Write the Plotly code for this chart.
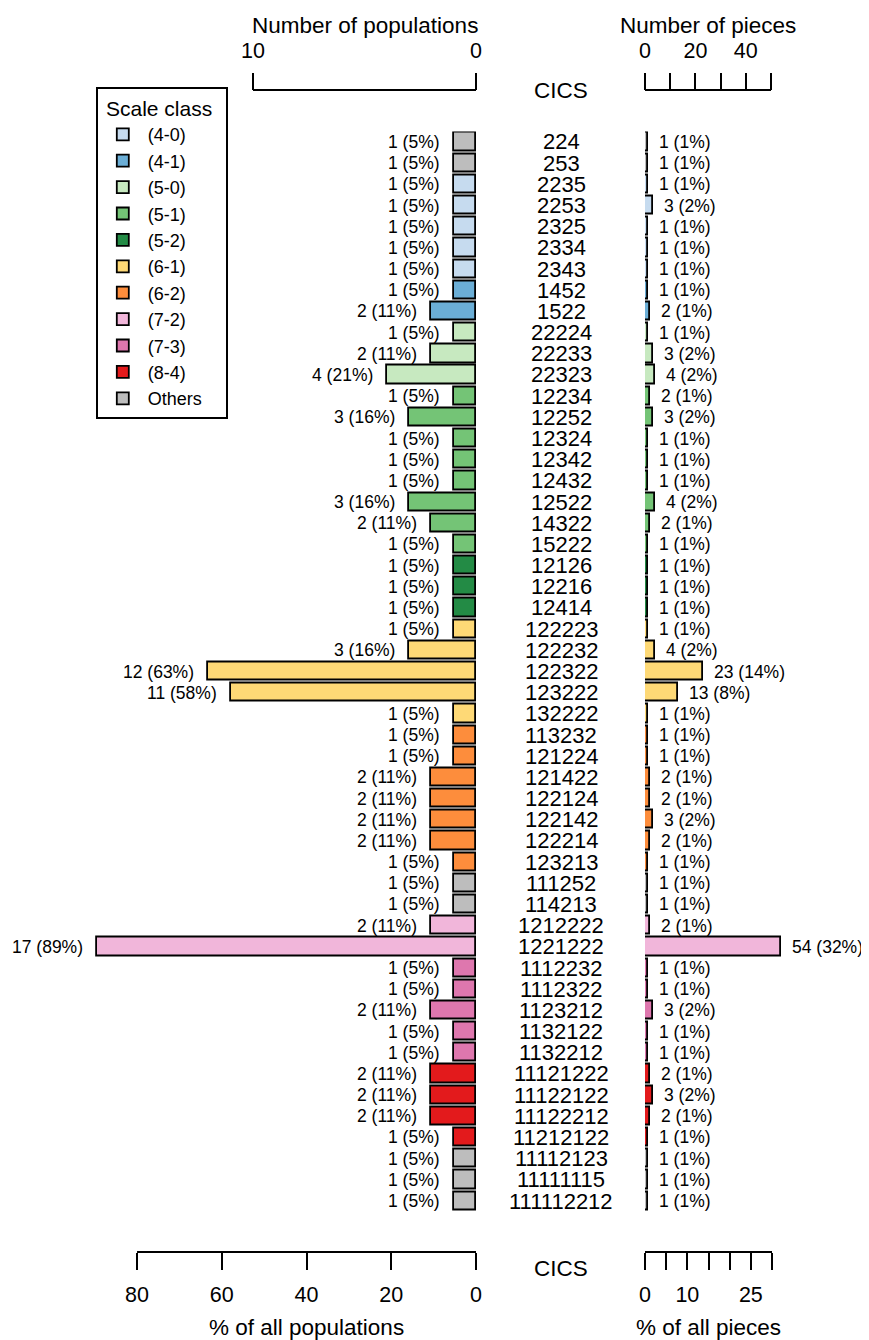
import plotly.graph_objects as go

# CICS rows, top to bottom
cics = ["224", "253", "2235", "2253", "2325", "2334", "2343", "1452", "1522",
        "22224", "22233", "22323", "12234", "12252", "12324", "12342", "12432",
        "12522", "14322", "15222", "12126", "12216", "12414", "122223", "122232",
        "122322", "123222", "132222", "113232", "121224", "121422", "122124",
        "122142", "122214", "123213", "111252", "114213", "1212222", "1221222",
        "1112232", "1112322", "1123212", "1132122", "1132212", "11121222",
        "11122122", "11122212", "11212122", "11112123", "11111115", "111112212"]
n_pop = [1, 1, 1, 1, 1, 1, 1, 1, 2, 1, 2, 4, 1, 3, 1, 1, 1, 3, 2, 1, 1, 1, 1, 1, 3,
         12, 11, 1, 1, 1, 2, 2, 2, 2, 1, 1, 1, 2, 17, 1, 1, 2, 1, 1, 2, 2, 2, 1, 1, 1, 1]
n_pieces = [1, 1, 1, 3, 1, 1, 1, 1, 2, 1, 3, 4, 2, 3, 1, 1, 1, 4, 2, 1, 1, 1, 1, 1, 4,
            23, 13, 1, 1, 1, 2, 2, 3, 2, 1, 1, 1, 2, 54, 1, 1, 3, 1, 1, 2, 3, 2, 1, 1, 1, 1]
scale_class = ["Others", "Others", "(4-0)", "(4-0)", "(4-0)", "(4-0)", "(4-0)", "(4-1)", "(4-1)",
               "(5-0)", "(5-0)", "(5-0)", "(5-1)", "(5-1)", "(5-1)", "(5-1)", "(5-1)",
               "(5-1)", "(5-1)", "(5-1)", "(5-2)", "(5-2)", "(5-2)", "(6-1)", "(6-1)",
               "(6-1)", "(6-1)", "(6-1)", "(6-2)", "(6-2)", "(6-2)", "(6-2)",
               "(6-2)", "(6-2)", "(6-2)", "Others", "Others", "(7-2)", "(7-2)",
               "(7-3)", "(7-3)", "(7-3)", "(7-3)", "(7-3)", "(8-4)",
               "(8-4)", "(8-4)", "(8-4)", "Others", "Others", "Others"]
class_names = ["(4-0)", "(4-1)", "(5-0)", "(5-1)", "(5-2)", "(6-1)", "(6-2)",
               "(7-2)", "(7-3)", "(8-4)", "Others"]
class_colors = ["#C6DBEF", "#6BAED6", "#C7E9C0", "#74C476", "#238B45", "#FED976",
                "#FD8D3C", "#F1B6DA", "#DE77AE", "#E31A1C", "#BDBDBD"]
total_pops = 19
total_pieces = sum(n_pieces)

pop_ticks = [0, 10]
pop_pct_ticks = [0, 20, 40, 60, 80]
piece_ticks = [0, 10, 20, 30, 40, 50]
piece_labels = ["0", "", "20", "", "40", ""]
piece_pct_ticks = [0, 5, 10, 15, 20, 25, 30]
piece_pct_labels = ["0", "", "10", "", "", "25", ""]

# page geometry (pixels in the browser window; body has an 8px margin)
PAGE_W, PAGE_H = 869, 1340
OFF = 8
W, H = PAGE_W - OFF, PAGE_H - OFF
FONT = "Liberation Sans, Arial, sans-serif"
left_zero = 476.0
px_per_pop = 22.3
right_zero = 645.0
px_per_piece = 2.52
row_top, row_bottom = 131.4, 1211.6
top_axis_y = 90
bot_axis_y = 1252
mid_x = 561


def fx(p):
    return (p - OFF) / W


def fy(p):
    return 1 - (p - OFF) / H


left_range = (left_zero - OFF) / px_per_pop
right_range = (W + OFF - right_zero) / px_per_piece

fig = go.Figure()
for name, col in zip(class_names, class_colors):
    idx = [i for i, c in enumerate(scale_class) if c == name]
    fig.add_trace(go.Bar(
        x=[n_pop[i] for i in idx], y=[cics[i] for i in idx], orientation="h",
        xaxis="x", yaxis="y", width=0.86, name=name, legendgroup=name,
        marker=dict(color=col, line=dict(color="black", width=1.8))))
    fig.add_trace(go.Bar(
        x=[n_pieces[i] for i in idx], y=[cics[i] for i in idx], orientation="h",
        xaxis="x2", yaxis="y", width=0.86, name=name, legendgroup=name,
        showlegend=False,
        marker=dict(color=col, line=dict(color="black", width=1.8))))

ann = []
for i, c in enumerate(cics):
    ann.append(dict(x=n_pop[i], y=i, xref="x", yref="y", xanchor="right", yanchor="middle",
                    xshift=-12,
                    text="%d (%d%%)" % (n_pop[i], round(100 * n_pop[i] / total_pops)),
                    showarrow=False, font=dict(size=17.5)))
    ann.append(dict(x=n_pieces[i], y=i, xref="x2", yref="y", xanchor="left", yanchor="middle",
                    xshift=9,
                    text="%d (%d%%)" % (n_pieces[i], round(100 * n_pieces[i] / total_pieces)),
                    showarrow=False, font=dict(size=17.5)))
    ann.append(dict(x=fx(mid_x), y=i, xref="paper", yref="y", xanchor="center",
                    yanchor="middle", text=c, showarrow=False, font=dict(size=22)))


def title(text, x, xref, ypix):
    return dict(x=x, y=fy(ypix), xref=xref, yref="paper", text=text, xanchor="center",
                yanchor="middle", showarrow=False, font=dict(size=22.5))


ann += [
    title("Number of populations", (pop_ticks[0] + pop_ticks[-1]) / 2, "x", 25),
    title("Number of pieces", (piece_ticks[0] + piece_ticks[-1]) / 2, "x2", 25),
    title("% of all populations", (pop_pct_ticks[0] + pop_pct_ticks[-1]) / 2, "x3", 1327),
    title("% of all pieces", (piece_pct_ticks[0] + piece_pct_ticks[-1]) / 2, "x4", 1327),
    title("CICS", fx(mid_x), "paper", 90),
    title("CICS", fx(mid_x), "paper", 1268),
]

line = dict(color="black", width=1.8)
shapes = [
    dict(type="line", xref="x", yref="paper", x0=pop_ticks[0], x1=pop_ticks[-1],
         y0=fy(top_axis_y), y1=fy(top_axis_y), line=line),
    dict(type="line", xref="x2", yref="paper", x0=piece_ticks[0], x1=piece_ticks[-1],
         y0=fy(top_axis_y), y1=fy(top_axis_y), line=line),
    dict(type="line", xref="x3", yref="paper", x0=pop_pct_ticks[0], x1=pop_pct_ticks[-1],
         y0=fy(bot_axis_y), y1=fy(bot_axis_y), line=line),
    dict(type="line", xref="x4", yref="paper", x0=piece_pct_ticks[0], x1=piece_pct_ticks[-1],
         y0=fy(bot_axis_y), y1=fy(bot_axis_y), line=line),
]

axis_common = dict(showgrid=False, zeroline=False, showline=False, ticks="outside",
                   ticklen=17, tickwidth=1.8, tickcolor="black", anchor="free",
                   automargin=False, tickfont=dict(size=21.5), ticklabelstandoff=6)

fig.update_layout(
    template="none",
    width=W, height=H, margin=dict(l=0, r=0, t=0, b=0, autoexpand=False),
    plot_bgcolor="white", paper_bgcolor="white",
    font=dict(family=FONT, color="black"),
    barmode="overlay", bargap=0,
    xaxis=dict(domain=[0, fx(left_zero)], range=[left_range, 0], side="top",
               position=fy(top_axis_y), tickvals=pop_ticks, **axis_common),
    xaxis2=dict(domain=[fx(right_zero), 1], range=[0, right_range], side="top",
                position=fy(top_axis_y), tickvals=piece_ticks, ticktext=piece_labels,
                **axis_common),
    xaxis3=dict(overlaying="x", range=[left_range * 100 / total_pops, 0], side="bottom",
                position=fy(bot_axis_y), tickvals=pop_pct_ticks, **axis_common),
    xaxis4=dict(overlaying="x2", range=[0, right_range * 100 / total_pieces], side="bottom",
                position=fy(bot_axis_y), tickvals=piece_pct_ticks, ticktext=piece_pct_labels,
                **axis_common),
    yaxis=dict(domain=[fy(row_bottom), fy(row_top)], type="category",
               categoryorder="array", categoryarray=cics, automargin=False,
               range=[len(cics) - 0.5, -0.5], visible=False),
    legend=dict(x=fx(96), y=fy(87), xanchor="left", yanchor="top",
                bordercolor="black", borderwidth=1.8, bgcolor="white",
                font=dict(size=18), traceorder="normal", itemwidth=40,
                title=dict(text="\u00a0Scale class\u00a0\u00a0", side="top center",
                           font=dict(size=21))),
    annotations=ann, shapes=shapes,
)

fig.write_html("out.html")
